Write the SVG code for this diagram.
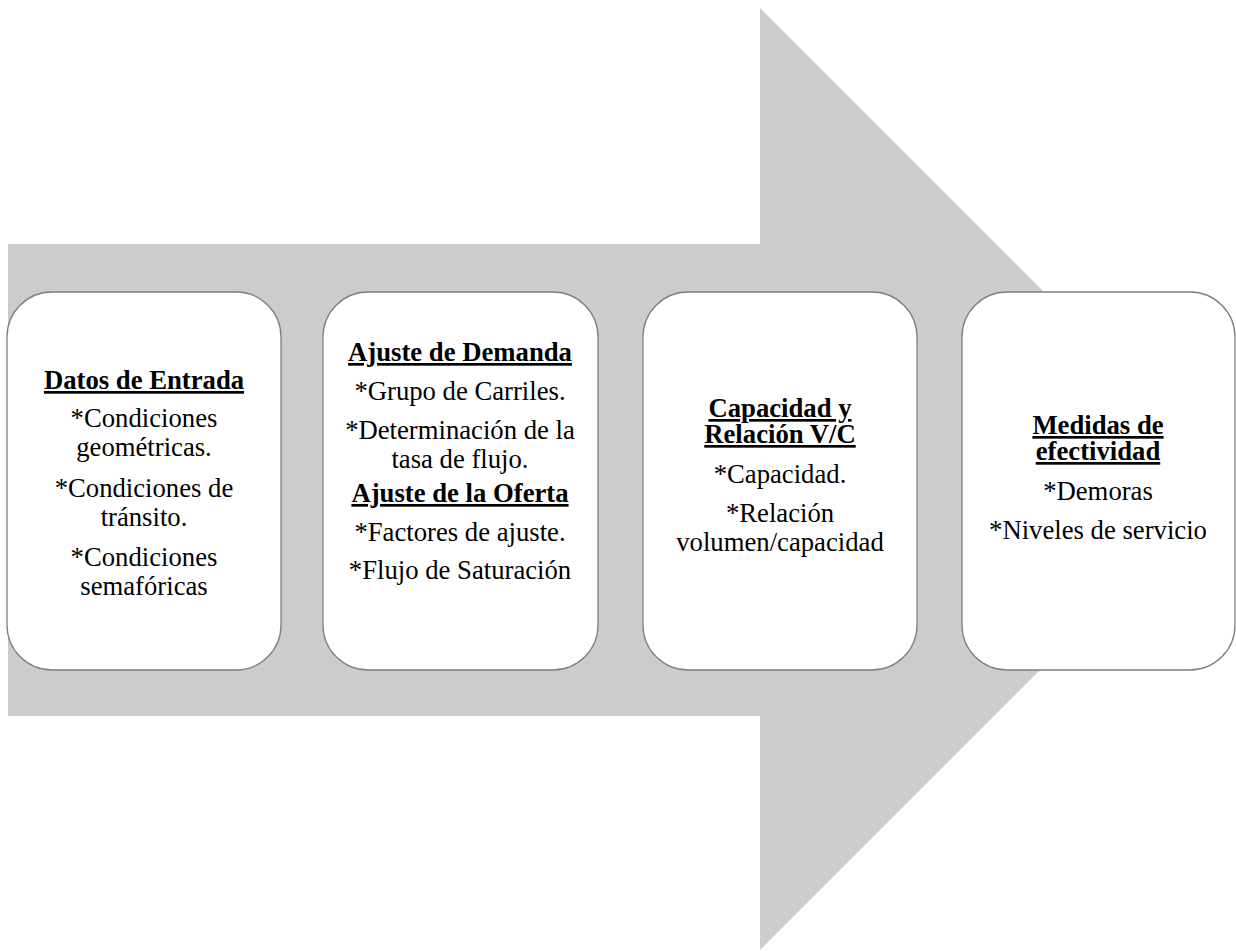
<svg xmlns="http://www.w3.org/2000/svg" width="1236" height="951" viewBox="0 0 1236 951" font-family="'Liberation Serif', 'DejaVu Serif', serif">
<style>
.box{fill:#ffffff;stroke:#7f7f7f;stroke-width:1.3}
text{font-family:'Liberation Serif','DejaVu Serif',serif;font-size:26.7px;fill:#000;text-anchor:middle}
.t{font-weight:bold;text-decoration:underline}
</style>
<rect width="1236" height="951" fill="#ffffff"/>
<g id="connectors">
<polygon points="8,244 760,244 760,8 1231,479 760,950 760,716 8,716" fill="#cccccc"/>
</g>
<g id="node1">
<rect class="box" x="7" y="292" width="274" height="378" rx="45" ry="45"/>
<text class="t" x="144" y="389">Datos de Entrada</text>
<text x="144" y="427">*Condiciones</text>
<text x="144" y="456">geométricas.</text>
<text x="144" y="497">*Condiciones de</text>
<text x="144" y="526">tránsito.</text>
<text x="144" y="566">*Condiciones</text>
<text x="144" y="595">semafóricas</text>
</g>
<g id="node2">
<rect class="box" x="323" y="292" width="275" height="378" rx="45" ry="45"/>
<text class="t" x="460" y="361">Ajuste de Demanda</text>
<text x="460" y="400">*Grupo de Carriles.</text>
<text x="460" y="439">*Determinación de la</text>
<text x="460" y="468">tasa de flujo.</text>
<text class="t" x="460" y="502">Ajuste de la Oferta</text>
<text x="460" y="541">*Factores de ajuste.</text>
<text x="460" y="579">*Flujo de Saturación</text>
</g>
<g id="node3">
<rect class="box" x="643" y="292" width="274" height="378" rx="45" ry="45"/>
<text class="t" x="780" y="417">Capacidad y</text>
<text class="t" x="780" y="443">Relación V/C</text>
<text x="780" y="483">*Capacidad.</text>
<text x="780" y="522">*Relación</text>
<text x="780" y="551">volumen/capacidad</text>
</g>
<g id="node4">
<rect class="box" x="962" y="292" width="273" height="378" rx="45" ry="45"/>
<text class="t" x="1098" y="434">Medidas de</text>
<text class="t" x="1098" y="460">efectividad</text>
<text x="1098" y="500">*Demoras</text>
<text x="1098" y="539">*Niveles de servicio</text>
</g>
</svg>
